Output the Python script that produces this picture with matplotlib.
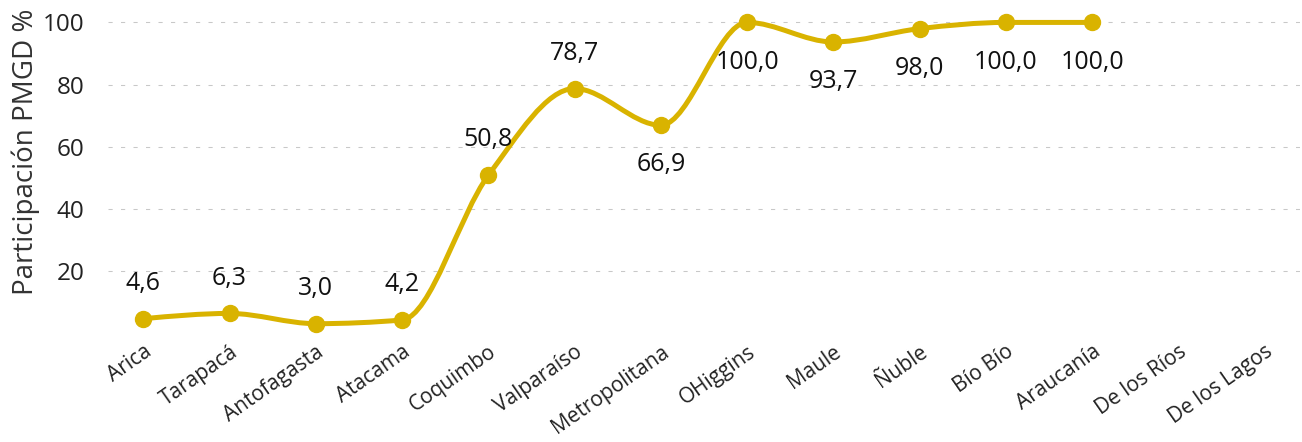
import matplotlib
matplotlib.use("Agg")
import matplotlib.pyplot as plt
import matplotlib.transforms as mtrans
import numpy as np
from matplotlib.path import Path
from matplotlib.patches import PathPatch

regiones = ["Arica", "Tarapacá", "Antofagasta", "Atacama", "Coquimbo", "Valparaíso",
            "Metropolitana", "OHiggins", "Maule", "Ñuble", "Bío Bío", "Araucanía",
            "De los Ríos", "De los Lagos"]
participacion = [4.6, 6.3, 3.0, 4.2, 50.8, 78.7, 66.9, 100.0, 93.7, 98.0, 100.0, 100.0]
# posicion de la etiqueta de cada punto (1 arriba, -1 abajo)
lado_etiqueta = [1, 1, 1, 1, 1, 1, -1, -1, -1, -1, -1, -1]

color = "#D9B300"
plt.rcParams['font.family'] = ['Open Sans', 'DejaVu Sans']


def curva_monotona(xs, ys):
    # tangentes tipo monotone-x para unir los puntos con curvas Bezier
    n = len(xs)
    s = [(ys[i + 1] - ys[i]) / (xs[i + 1] - xs[i]) for i in range(n - 1)]
    t = [0.0] * n
    for i in range(1, n - 1):
        h0 = xs[i] - xs[i - 1]
        h1 = xs[i + 1] - xs[i]
        p = (s[i - 1] * h1 + s[i] * h0) / (h0 + h1)
        t[i] = (np.sign(s[i - 1]) + np.sign(s[i])) * min(abs(s[i - 1]), abs(s[i]), 0.5 * abs(p))
    t[0] = (3 * s[0] - t[1]) / 2
    t[-1] = (3 * s[-1] - t[-2]) / 2
    verts = [(xs[0], ys[0])]
    codes = [Path.MOVETO]
    for i in range(n - 1):
        dx = (xs[i + 1] - xs[i]) / 3
        verts += [(xs[i] + dx, ys[i] + dx * t[i]),
                  (xs[i + 1] - dx, ys[i + 1] - dx * t[i + 1]),
                  (xs[i + 1], ys[i + 1])]
        codes += [Path.CURVE4] * 3
    return Path(verts, codes)


fig = plt.figure(figsize=(13.02, 4.42), dpi=100)
ax = fig.add_axes([108 / 1302, 1 - 333 / 442, 1192 / 1302, 323 / 442])

xs = list(range(len(participacion)))
ys = participacion

ax.add_patch(PathPatch(curva_monotona(xs, ys), facecolor="none", edgecolor=color,
                       lw=3.6, capstyle="round", joinstyle="round", zorder=3))
ax.plot(xs, ys, "o", color=color, markersize=11.5, zorder=4)

for x, y, lado in zip(xs, ys, lado_etiqueta):
    ax.annotate(f"{y:.1f}".replace(".", ","), (x, y),
                xytext=(0, 25.5 if lado > 0 else -28.5),
                textcoords="offset points", ha="center", va="center",
                fontsize=18, color="#111111", zorder=5)

ax.set_xlim(-0.41, len(regiones) - 1 + 0.41)
ax.set_ylim(0, 104)
ax.set_yticks([20, 40, 60, 80, 100])
ax.set_xticks(range(len(regiones)))
ax.set_xticklabels(regiones, rotation=35, ha="right", rotation_mode="anchor",
                   fontsize=15, color="#222222")
desplaza = mtrans.ScaledTranslation(-10 / 100, -2 / 100, fig.dpi_scale_trans)
for lbl in ax.get_xticklabels():
    lbl.set_transform(lbl.get_transform() + desplaza)
ax.tick_params(axis="y", labelsize=17.5, colors="#222222", length=0, pad=17)
ax.tick_params(axis="x", length=0, pad=6)
ax.yaxis.grid(True, color="#C8C8C8", lw=0.75, dashes=(4, 8))
ax.set_axisbelow(True)
for s in ax.spines.values():
    s.set_visible(False)
ax.set_ylabel("Participación PMGD %", fontsize=20, color="#333333")
ax.yaxis.set_label_coords(-0.057, 0.56)

fig.savefig("out.png", dpi=100)
